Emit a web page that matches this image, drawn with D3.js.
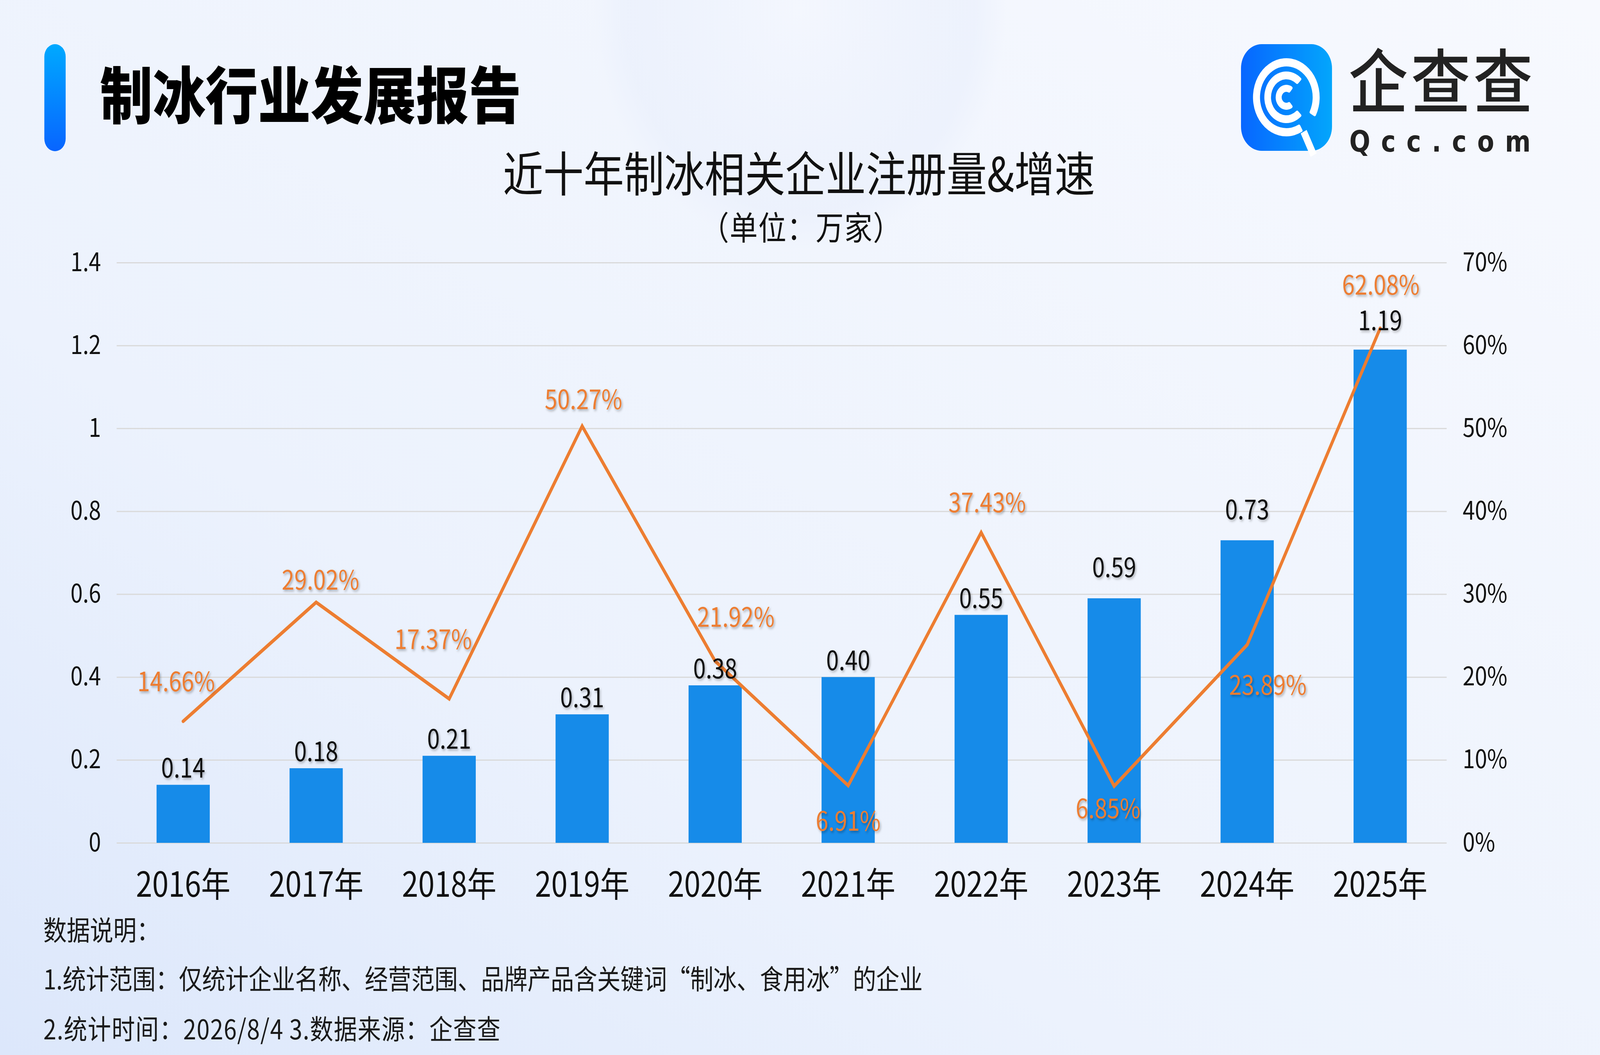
<!DOCTYPE html>
<html lang="zh-CN">
<head>
<meta charset="UTF-8">
<title>制冰行业发展报告</title>
<script src="https://cdn.jsdelivr.net/npm/d3@7/dist/d3.min.js"></script>
<style>
  html, body { margin: 0; padding: 0; overflow: hidden; background: #eef3fd; }
  svg#main { display: block; width: 100vw; height: 100vh; }
  svg text { font-family: "Noto Sans CJK SC", "Noto Sans", sans-serif; }
</style>
</head>
<body>
<!-- drawn on a 4800x2700 canvas, stretched to whatever the window is -->
<svg id="main" viewBox="0 0 4800 2700" preserveAspectRatio="none"></svg>
<script>
// data
const years = ["2016年", "2017年", "2018年", "2019年", "2020年", "2021年", "2022年", "2023年", "2024年", "2025年"];
const counts = [0.14, 0.18, 0.21, 0.31, 0.38, 0.40, 0.55, 0.59, 0.73, 1.19];   // 万家
const growth = [14.66, 29.02, 17.37, 50.27, 21.92, 6.91, 37.43, 6.85, 23.89, 62.08]; // %
const leftTicks = [0, 0.2, 0.4, 0.6, 0.8, 1, 1.2, 1.4];
const rightTicks = [0, 10, 20, 30, 40, 50, 60, 70];
const notes = [
    "数据说明：",
    "1.统计范围：仅统计企业名称、经营范围、品牌产品含关键词“制冰、食用冰”的企业",
    "2.统计时间：2026/8/4 3.数据来源：企查查"
];

// label nudges, the labels in the original were dragged around by hand
const countLift = [18, 18, 18, 18, 18, 18, 18, 54, 54, 50];
const growthShift = [[-21, -107], [13, -62], [-48, -157], [4, -73], [62, -118],
                     [0, 86], [18, -82], [-18, 53], [62, 98], [2, -116]];

const svg = d3.select('svg#main');
const defs = svg.append('defs');

// background
let bg = defs.append('linearGradient').attr('id', 'bg')
    .attr('x1', 0).attr('y1', 1).attr('x2', 1).attr('y2', 0);
bg.append('stop').attr('offset', 0).attr('stop-color', '#dce7fb');
bg.append('stop').attr('offset', 0.35).attr('stop-color', '#ecf2fd');
bg.append('stop').attr('offset', 1).attr('stop-color', '#f7f9fe');
let blob = defs.append('radialGradient').attr('id', 'blob');
blob.append('stop').attr('offset', 0).attr('stop-color', '#f4f7fe').attr('stop-opacity', 0.9);
blob.append('stop').attr('offset', 0.85).attr('stop-color', '#e9effc').attr('stop-opacity', 0.6);
blob.append('stop').attr('offset', 1).attr('stop-color', '#e9effc').attr('stop-opacity', 0);
svg.append('rect').attr('width', 4800).attr('height', 2700).attr('fill', 'url(#bg)');
svg.append('circle').attr('cx', 2400).attr('cy', 20).attr('r', 620).attr('fill', 'url(#blob)');

// header
let hb = defs.append('linearGradient').attr('id', 'hbar')
    .attr('x1', 0).attr('y1', 0).attr('x2', 0).attr('y2', 1);
hb.append('stop').attr('offset', 0).attr('stop-color', '#00a9ff');
hb.append('stop').attr('offset', 1).attr('stop-color', '#0865ff');
svg.append('rect').attr('x', 133).attr('y', 113).attr('width', 64).attr('height', 274)
    .attr('rx', 32).attr('fill', 'url(#hbar)');
svg.append('text').attr('x', 300).attr('y', 234).attr('dominant-baseline', 'central')
    .attr('font-size', 158).attr('font-weight', 900).attr('fill', '#000')
    .text('制冰行业发展报告');

// logo
let lg = defs.append('linearGradient').attr('id', 'logo')
    .attr('x1', 0).attr('y1', 0).attr('x2', 1).attr('y2', 0);
lg.append('stop').attr('offset', 0).attr('stop-color', '#0766ff');
lg.append('stop').attr('offset', 1).attr('stop-color', '#03a6fc');
let logo = svg.append('g');
logo.append('rect').attr('x', 3723).attr('y', 113).attr('width', 273).attr('height', 273)
    .attr('rx', 62).attr('fill', 'url(#logo)');
let rings = [[79, 100, 150, 480], [46, 66, 135, 405], [14, 32, 140, 400]];
let ring = d3.arc().cornerRadius(4);
let mark = logo.append('g').attr('transform', 'translate(3859,249)');
rings.forEach(function (r) {
    mark.append('path').attr('fill', '#fff').attr('d', ring({
        innerRadius: r[0], outerRadius: r[1],
        startAngle: r[2] * Math.PI / 180, endAngle: r[3] * Math.PI / 180
    }));
});
mark.append('line').attr('x1', 52).attr('y1', 88).attr('x2', 82).attr('y2', 148)
    .attr('stroke', '#fff').attr('stroke-width', 20);
logo.append('text').attr('x', 4046).attr('y', 198).attr('dominant-baseline', 'central')
    .attr('font-size', 178).attr('font-weight', 500).attr('fill', '#222')
    .attr('textLength', 552).attr('lengthAdjust', 'spacing').text('企查查');
logo.append('text').attr('x', 4048).attr('y', 388)
    .attr('font-size', 74).attr('font-weight', 700).attr('fill', '#222')
    .style('font-family', '"DejaVu Sans", sans-serif')
    .attr('textLength', 544).attr('lengthAdjust', 'spacing').text('Qcc.com');

// chart titles
svg.append('text').attr('x', 2397).attr('y', 437).attr('text-anchor', 'middle')
    .attr('dominant-baseline', 'central').attr('font-size', 121).attr('fill', '#111')
    .text('近十年制冰相关企业注册量&增速');
svg.append('text').attr('x', 2103).attr('y', 577)
    .attr('dominant-baseline', 'central').attr('font-size', 84).attr('fill', '#111')
    .attr('textLength', 600).attr('lengthAdjust', 'spacing')
    .text('（单位：万家）');

// shadow behind the data labels
defs.append('filter').attr('id', 'sh').attr('x', '-10%').attr('y', '-20%')
    .attr('width', '130%').attr('height', '150%')
    .append('feDropShadow').attr('dx', 3).attr('dy', 4).attr('stdDeviation', 3)
    .attr('flood-color', '#000').attr('flood-opacity', 0.3);

// scales
let xScale = d3.scaleBand().domain(years).range([350, 4340]).padding(0);
let yLeft = d3.scaleLinear().domain([0, 1.4]).range([2157, 672]);
let yRight = d3.scaleLinear().domain([0, 70]).range([2157, 672]);
let cx = function (i) { return xScale(years[i]) + xScale.bandwidth() / 2; };
let barW = xScale.bandwidth() * 0.4;

// gridlines
svg.append('g').attr('transform', 'translate(350,0)')
    .call(d3.axisRight(yLeft).tickValues(leftTicks).tickSize(3990).tickFormat(''))
    .call(function (g) {
        g.select('.domain').remove();
        g.selectAll('line').attr('stroke', '#d9d9d9').attr('stroke-width', 3);
    });

// axes
function styleAxis(g, size) {
    g.select('.domain').remove();
    g.attr('font-size', size).attr('font-family', null).attr('color', '#111');
}
svg.append('g').attr('transform', 'translate(350,0)')
    .call(d3.axisLeft(yLeft).tickValues(leftTicks).tickSize(0).tickPadding(47)
        .tickFormat(d3.format('~g')))
    .call(styleAxis, 66);
svg.append('g').attr('transform', 'translate(4340,0)')
    .call(d3.axisRight(yRight).tickValues(rightTicks).tickSize(0).tickPadding(48)
        .tickFormat(function (d) { return d + '%'; }))
    .call(styleAxis, 66);
svg.append('g').attr('transform', 'translate(0,2157)')
    .call(d3.axisBottom(xScale).tickSize(0).tickPadding(76))
    .call(styleAxis, 88);

// bars
svg.append('g').selectAll('rect').data(counts).join('rect')
    .attr('x', function (d, i) { return cx(i) - barW / 2; })
    .attr('y', function (d) { return yLeft(d); })
    .attr('width', barW)
    .attr('height', function (d) { return yLeft(0) - yLeft(d); })
    .attr('fill', '#168be9');

// growth line
let line = d3.line()
    .x(function (d, i) { return cx(i); })
    .y(function (d) { return yRight(d); });
svg.append('path').datum(growth).attr('d', line)
    .attr('fill', 'none').attr('stroke', '#ed7d31').attr('stroke-width', 9)
    .attr('stroke-linecap', 'round').attr('stroke-linejoin', 'miter');

// data labels
svg.append('g').attr('filter', 'url(#sh)').selectAll('text').data(counts).join('text')
    .attr('x', function (d, i) { return cx(i); })
    .attr('y', function (d, i) { return yLeft(d) - countLift[i]; })
    .attr('text-anchor', 'middle').attr('font-size', 68).attr('fill', '#111')
    .text(d3.format('.2f'));
svg.append('g').attr('filter', 'url(#sh)').selectAll('text').data(growth).join('text')
    .attr('x', function (d, i) { return cx(i) + growthShift[i][0]; })
    .attr('y', function (d, i) { return yRight(d) + growthShift[i][1]; })
    .attr('text-anchor', 'middle').attr('dominant-baseline', 'central')
    .attr('font-size', 68).attr('fill', '#ed7d31')
    .text(function (d) { return d3.format('.2f')(d) + '%'; });

// notes under the chart
let noteLen = [null, 2638, 1371];
svg.append('g').selectAll('text').data(notes).join('text')
    .attr('x', 130)
    .attr('y', function (d, i) { return [2377, 2502, 2630][i]; })
    .attr('dominant-baseline', 'central').attr('font-size', 70).attr('fill', '#1a1a1a')
    .attr('textLength', function (d, i) { return noteLen[i]; })
    .attr('lengthAdjust', 'spacing')
    .text(function (d) { return d; });
</script>
</body>
</html>
